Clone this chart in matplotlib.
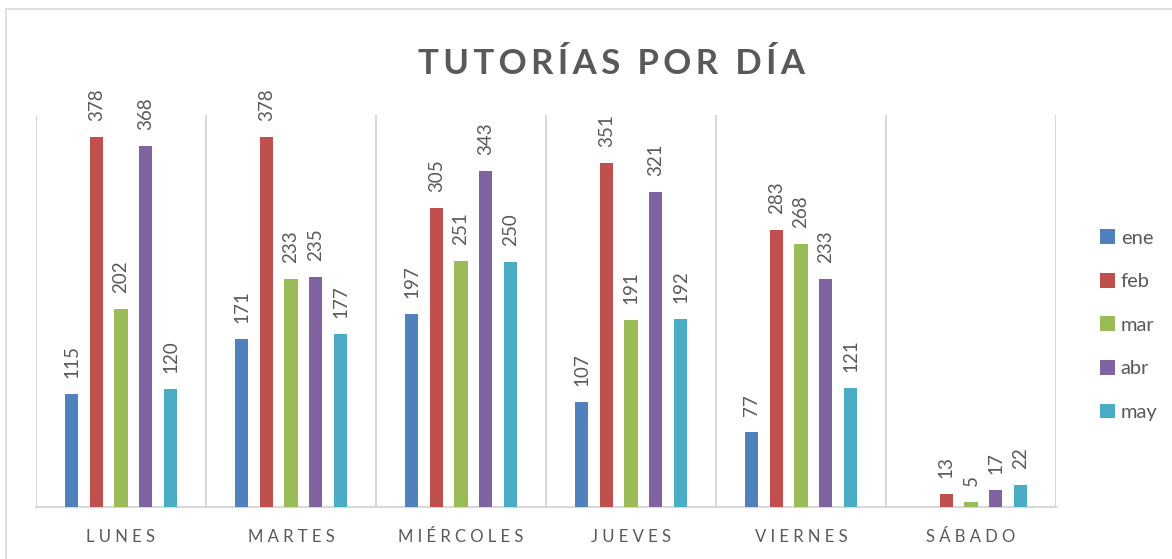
import matplotlib
matplotlib.use("Agg")
import matplotlib.pyplot as plt
import numpy as np
from matplotlib.patches import Rectangle

plt.rcParams['font.family'] = ['Lato', 'DejaVu Sans']

categories = ["LUNES", "MARTES", "MIÉRCOLES", "JUEVES", "VIERNES", "SÁBADO"]
months = ["ene", "feb", "mar", "abr", "may"]
ene = [115, 171, 197, 107, 77, None]
feb = [378, 378, 305, 351, 283, 13]
mar = [202, 233, 251, 191, 268, 5]
abr = [368, 235, 343, 321, 233, 17]
may = [120, 177, 250, 192, 121, 22]
series = [ene, feb, mar, abr, may]
colors = ["#4F81BD", "#C0504D", "#9BBB59", "#8064A2", "#4BACC6"]
title = "TUTORÍAS POR DÍA"

W, H = 1172, 559
fig = plt.figure(figsize=(W / 100, H / 100), dpi=100)
fig.patch.set_facecolor("white")
# outer chart frame
fig.add_artist(Rectangle((6 / W, -0.1), 1.2, 1 - 9 / H + 0.1, transform=fig.transFigure,
                         fill=False, edgecolor="#D9D9D9", linewidth=1.2))

ax = fig.add_axes([36 / W, (H - 507) / H, (1056 - 36) / W, (507 - 115) / H])
x = np.arange(len(categories))
spacing = 0.1455
width = 0.077
gray = "#595959"
for i, (vals, c, m) in enumerate(zip(series, colors, months)):
    xs, ys = [], []
    for j, v in enumerate(vals):
        if v is None:
            continue
        xs.append(x[j] + (i - 2) * spacing)
        ys.append(v)
    bars = ax.bar(xs, ys, width=width, color=c, label=m, zorder=3)
    for bx, by in zip(xs, ys):
        ax.annotate(str(by), (bx, by), xytext=(0, 11.5), textcoords="offset points",
                    rotation=90, ha="center", va="bottom", fontsize=13.5, color=gray)

ax.set_xlim(-0.5, len(categories) - 0.5)
ax.set_ylim(0, 400)
for b in np.arange(-0.5, len(categories)):
    ax.axvline(b, color="#D9D9D9", linewidth=1.5, zorder=1)
for s in ["top", "right", "left"]:
    ax.spines[s].set_visible(False)
ax.spines["bottom"].set_color("#D9D9D9")
ax.spines["bottom"].set_linewidth(1.5)
ax.set_yticks([])
ax.set_xticks(x)
ax.set_xticklabels([" ".join(c) for c in categories], fontsize=12, color=gray)
ax.tick_params(axis="x", length=0, pad=16)

spaced_title = "\u2009 \u2009".join("\u2009".join(w) for w in title.split(" "))
fig.text(611 / W, 1 - 63.5 / H, spaced_title, ha="center", va="center",
         fontsize=25, fontweight="bold", color=gray)

leg = ax.legend(loc="center left", bbox_to_anchor=(1.025, 0.464), frameon=False,
                fontsize=14.5, labelcolor=gray, handlelength=0.75, handleheight=0.75,
                handletextpad=0.3, labelspacing=1.3)

fig.savefig("out.png", dpi=100)
